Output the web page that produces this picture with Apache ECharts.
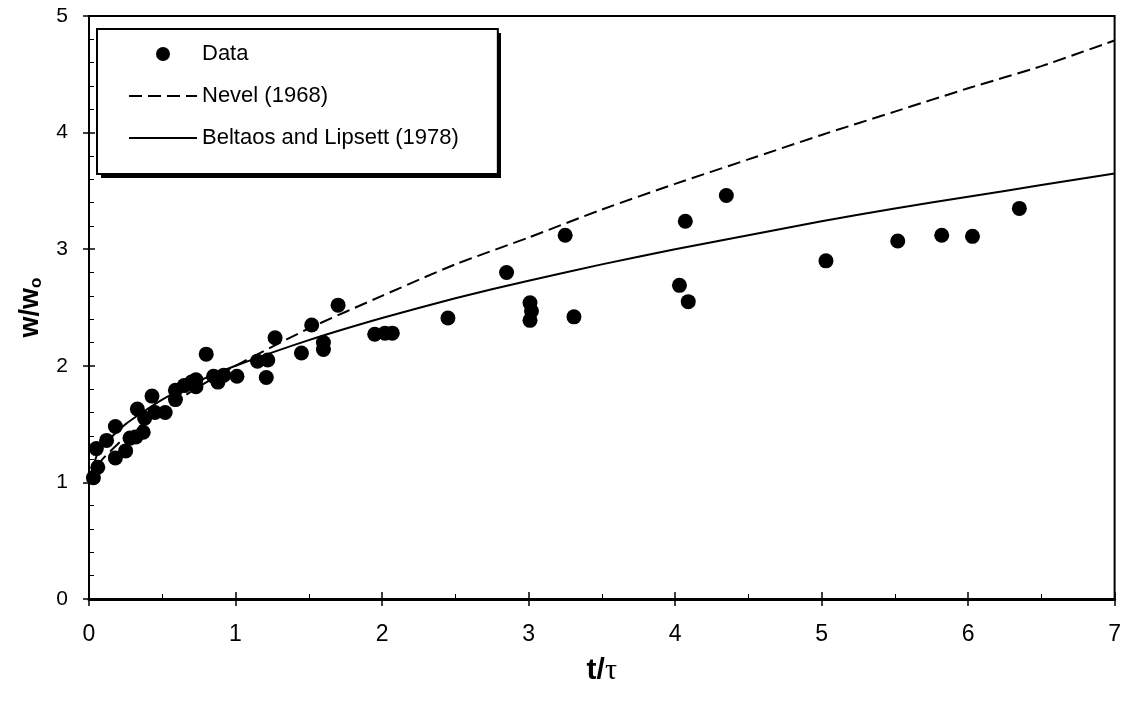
<!DOCTYPE html>
<html>
<head>
<meta charset="utf-8">
<script src="https://cdn.jsdelivr.net/npm/echarts/dist/echarts.min.js"></script>
<style>
  html, body { margin: 0; padding: 0; background: #fff; }
  #main { width: 1124px; height: 704px; }
</style>
</head>
<body>
<div id="main"></div>
<script>
// measured points (t/tau, w/wo)
var dataX = [0.03, 0.06, 0.05, 0.12, 0.18, 0.18, 0.25, 0.28, 0.33, 0.32, 0.37, 0.38, 0.43, 0.45, 0.52,
             0.59, 0.59, 0.65, 0.70, 0.73, 0.73, 0.80, 0.85, 0.88, 0.92, 1.01, 1.15, 1.21, 1.22, 1.27,
             1.45, 1.52, 1.60, 1.60, 1.70, 1.95, 2.02, 2.07, 2.45, 2.85, 3.01, 3.02, 3.01, 3.25, 3.31,
             4.03, 4.07, 4.09, 4.35, 5.03, 5.52, 5.82, 6.03, 6.35];
var dataY = [1.04, 1.13, 1.29, 1.36, 1.48, 1.21, 1.27, 1.38, 1.63, 1.39, 1.43, 1.55, 1.74, 1.60, 1.60,
             1.79, 1.71, 1.83, 1.86, 1.88, 1.82, 2.10, 1.91, 1.86, 1.92, 1.91, 2.04, 1.90, 2.05, 2.24,
             2.11, 2.35, 2.20, 2.14, 2.52, 2.27, 2.28, 2.28, 2.41, 2.80, 2.54, 2.47, 2.39, 3.12, 2.42,
             2.69, 3.24, 2.55, 3.46, 2.90, 3.07, 3.12, 3.11, 3.35];

// curves
var curveX   = [0, 0.05, 0.1, 0.25, 0.5, 0.75, 1, 1.5, 2, 2.5, 3, 3.5, 4, 4.5, 5, 5.5, 6, 6.5, 7];
var nevelY   = [1.0, 1.13, 1.21, 1.39, 1.62, 1.82, 2.0, 2.32, 2.60, 2.87, 3.10, 3.34, 3.56, 3.77, 3.98, 4.18, 4.38, 4.57, 4.79];
var beltaosY = [1.0, 1.22, 1.32, 1.50, 1.71, 1.87, 2.0, 2.22, 2.41, 2.58, 2.73, 2.87, 3.0, 3.12, 3.24, 3.35, 3.45, 3.55, 3.65];

var seriesNames = ['Data', 'Nevel (1968)', 'Beltaos and Lipsett (1978)'];

var pairs = function (xs, ys) {
    var res = [];
    for (var i = 0; i < xs.length; i++) {
        res.push([xs[i], ys[i]]);
    }
    return res;
};

var font = 'Liberation Sans, Arial, sans-serif';

option = {
    backgroundColor: '#fff',
    animation: false,
    grid: {
        left: 89,
        right: 9,
        top: 16,
        bottom: 105,
        show: true,
        borderColor: '#000',
        borderWidth: 2,
        backgroundColor: 'transparent'
    },
    // hard drop shadow behind the legend box
    graphic: [{
        type: 'rect',
        left: 101,
        top: 33,
        z: 1,
        shape: {width: 400, height: 145},
        style: {fill: '#000'}
    }],
    legend: {
        data: [
            {name: seriesNames[0], icon: 'circle'},
            {name: seriesNames[1], itemStyle: {opacity: 0}},
            {name: seriesNames[2], itemStyle: {opacity: 0}}
        ],
        orient: 'vertical',
        left: 97,
        top: 29,
        z: 5,
        itemWidth: 68,
        itemHeight: 14,
        itemGap: 20,
        padding: [14, 39, 25, 31],
        backgroundColor: '#fff',
        borderColor: '#000',
        borderWidth: 2,
        borderRadius: 0,
        textStyle: {
            color: '#000',
            fontFamily: font,
            fontSize: 22,
            lineHeight: 22
        }
    },
    xAxis: [
        {
            type: 'value',
            min: 0,
            max: 7,
            interval: 1,
            name: '{a|t/}{b|τ}',
            nameLocation: 'middle',
            nameGap: 57,
            nameTextStyle: {
                rich: {
                    a: {fontFamily: font, fontSize: 30, fontWeight: 'bold', color: '#000'},
                    b: {fontFamily: 'Liberation Serif, serif', fontSize: 30, color: '#000'}
                }
            },
            axisLine: {onZero: false, lineStyle: {color: '#000', width: 3}},
            axisTick: {show: true, inside: false, length: 7, lineStyle: {color: '#000', width: 1.5}},
            axisLabel: {color: '#000', fontFamily: 'Liberation Sans Narrow, ' + font, fontSize: 23, margin: 24},
            splitLine: {show: false}
        },
        {
            type: 'value',
            gridIndex: 0,
            position: 'bottom',
            min: 0,
            max: 7,
            interval: 1,
            axisLine: {show: false},
            axisTick: {show: true, inside: true, length: 7, lineStyle: {color: '#000', width: 1.5}},
            minorTick: {show: true, splitNumber: 2, length: 5, lineStyle: {color: '#000', width: 1}},
            axisLabel: {show: false},
            splitLine: {show: false}
        }
    ],
    yAxis: [
        {
            type: 'value',
            min: 0,
            max: 5,
            interval: 1,
            name: '{a|w/w}{b|o}',
            nameLocation: 'middle',
            nameGap: 44,
            nameRotate: 90,
            nameTextStyle: {
                rich: {
                    a: {fontFamily: font, fontSize: 27, fontWeight: 'bold', color: '#000'},
                    b: {fontFamily: font, fontSize: 17, fontWeight: 'bold', color: '#000',
                        verticalAlign: 'bottom', padding: [12, 0, 0, 0]}
                }
            },
            axisLine: {onZero: false, lineStyle: {color: '#000', width: 2}},
            axisTick: {show: true, inside: false, length: 6, lineStyle: {color: '#000', width: 1.5}},
            axisLabel: {color: '#000', fontFamily: font, fontSize: 21, margin: 21},
            splitLine: {show: false}
        },
        {
            type: 'value',
            gridIndex: 0,
            position: 'left',
            min: 0,
            max: 5,
            interval: 1,
            axisLine: {show: false},
            axisTick: {show: true, inside: true, length: 6, lineStyle: {color: '#000', width: 1.5}},
            minorTick: {show: true, splitNumber: 5, length: 5, lineStyle: {color: '#000', width: 1}},
            axisLabel: {show: false},
            splitLine: {show: false}
        }
    ],
    series: [
        {
            name: seriesNames[1],
            type: 'line',
            xAxisIndex: 0,
            yAxisIndex: 0,
            data: pairs(curveX, nevelY),
            symbol: 'none',
            smooth: 0.2,
            lineStyle: {color: '#000', width: 2, type: [13, 6]},
            itemStyle: {color: '#000'},
            z: 2
        },
        {
            name: seriesNames[2],
            type: 'line',
            xAxisIndex: 0,
            yAxisIndex: 0,
            data: pairs(curveX, beltaosY),
            symbol: 'none',
            smooth: 0.2,
            lineStyle: {color: '#000', width: 2},
            itemStyle: {color: '#000'},
            z: 2
        },
        {
            name: seriesNames[0],
            type: 'scatter',
            xAxisIndex: 0,
            yAxisIndex: 0,
            data: pairs(dataX, dataY),
            symbol: 'circle',
            symbolSize: 15,
            itemStyle: {color: '#000', opacity: 1},
            z: 3
        }
    ]
};

var myChart = echarts.init(document.getElementById('main'));
myChart.setOption(option);
</script>
</body>
</html>
